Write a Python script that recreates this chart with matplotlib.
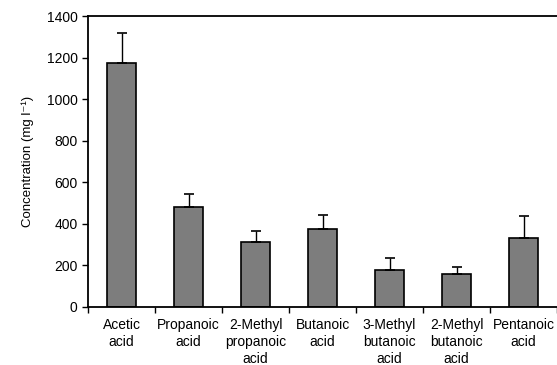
import matplotlib
matplotlib.use("Agg")
import matplotlib.pyplot as plt
import numpy as np

acids = ["Acetic\nacid", "Propanoic\nacid", "2-Methyl\npropanoic\nacid",
         "Butanoic\nacid", "3-Methyl\nbutanoic\nacid", "2-Methyl\nbutanoic\nacid",
         "Pentanoic\nacid"]
means = [1175, 481, 313, 375, 178, 160, 331]
errs = [144, 63, 53, 67, 58, 34, 107]
yticks = [0, 200, 400, 600, 800, 1000, 1200, 1400]

plt.rcParams['font.family'] = ['Liberation Sans', 'DejaVu Sans']


def main():
    fig = plt.figure(figsize=(5.57, 3.65), dpi=100)
    ax = fig.add_axes([0.158, 0.159, 0.842, 0.797])

    x = np.arange(len(acids))
    ax.bar(x, means, width=0.42, color="#7d7d7d", edgecolor="black", linewidth=1.2,
           yerr=[np.zeros(len(errs)), errs], capsize=3.5,
           error_kw=dict(ecolor="black", elinewidth=1, capthick=1.2))

    ax.set_xlim(-0.5, len(acids) - 0.5)
    ax.set_ylim(0, 1400)
    ax.set_yticks(yticks)
    ax.tick_params(axis="y", labelsize=10, direction="out", length=4, width=1)

    # ticks on category boundaries, labels under the bars
    ax.set_xticks(np.arange(len(acids) + 1) - 0.5)
    ax.set_xticklabels([])
    ax.tick_params(axis="x", direction="out", length=4, width=1)
    ax.set_xticks(x, minor=True)
    ax.set_xticklabels(acids, minor=True, fontsize=10, linespacing=1.25)
    ax.tick_params(axis="x", which="minor", length=0, pad=8)

    ax.spines["right"].set_visible(False)
    for s in ["left", "bottom", "top"]:
        ax.spines[s].set_linewidth(1.3)

    ax.set_ylabel("Concentration (mg l\u207b\u00b9)", fontsize=9.5, labelpad=9)

    fig.savefig("out.png", dpi=100)


if __name__ == "__main__":
    main()
